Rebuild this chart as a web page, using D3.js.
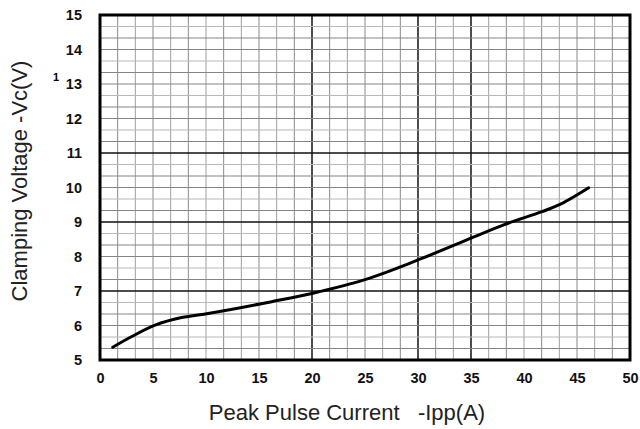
<!DOCTYPE html>
<html><head><meta charset="utf-8">
<script src="https://cdn.jsdelivr.net/npm/d3@7"></script>
<style>body{margin:0;background:#fff}svg{display:block}</style>
</head><body>
<svg id="c" width="640" height="429"></svg>
<script>
const currentA = [1.2, 3, 5.2, 7.7, 10.2, 13, 16.2, 20, 25, 30, 35, 38.2, 41.7, 43.6, 46.1];
const clampV   = [5.37, 5.68, 6.01, 6.23, 6.35, 6.5, 6.69, 6.93, 7.33, 7.9, 8.53, 8.93, 9.3, 9.54, 9.99];
const xTicks = [0, 5, 10, 15, 20, 25, 30, 35, 40, 45, 50];
const yTicks = [5, 6, 7, 8, 9, 10, 11, 12, 13, 14, 15];
const gridCols = d3.range(0, 31);
const gridRows = d3.range(0, 31);
const darkCols = [12, 18, 21];
const darkRows = [12, 18, 24];

const svg = d3.select("#c");
const L = 100, R = 630, T = 15, B = 360;
const x = d3.scaleLinear().domain([0, 50]).range([L, R]);
const y = d3.scaleLinear().domain([5, 15]).range([B, T]);
const gx = d3.scaleLinear().domain([0, 30]).range([L, R]);
const gy = d3.scaleLinear().domain([0, 30]).range([T, B]);

const g = svg.append("g");
g.selectAll("line.vc").data(gridCols).join("line")
  .attr("x1", d => gx(d)).attr("x2", d => gx(d)).attr("y1", T).attr("y2", B)
  .attr("stroke", d => darkCols.includes(d) ? "#111" : (d % 2 ? "#8a8a8a" : "#a0a0a0"))
  .attr("stroke-width", d => darkCols.includes(d) ? 1.5 : 1);
g.selectAll("line.hr").data(gridRows).join("line")
  .attr("y1", d => gy(d)).attr("y2", d => gy(d)).attr("x1", L).attr("x2", R)
  .attr("stroke", d => darkRows.includes(d) ? "#111" : (d % 3 === 1 ? "#b8b8b8" : "#858585"))
  .attr("stroke-width", d => darkRows.includes(d) ? 1.5 : 1);

svg.append("rect").attr("x", L).attr("y", T).attr("width", R - L).attr("height", B - T)
  .attr("fill", "none").attr("stroke", "#000").attr("stroke-width", 3);

const pts = currentA.map((v, i) => [v, clampV[i]]);
svg.append("path").datum(pts)
  .attr("d", d3.line().x(d => x(d[0])).y(d => y(d[1])).curve(d3.curveCatmullRom.alpha(0.5)))
  .attr("fill", "none").attr("stroke", "#000").attr("stroke-width", 3).attr("stroke-linecap", "round");

const font = "Liberation Sans, Arial, sans-serif";
const xAxis = d3.axisBottom(x).tickValues(xTicks).tickSize(0).tickPadding(13);
svg.append("g").attr("transform", `translate(0,${B})`).call(xAxis)
  .call(s => s.select(".domain").remove())
  .selectAll("text").style("font-family", font).style("font-size", "14.5px").style("font-weight", "bold").attr("fill", "#111");
const yAxis = d3.axisLeft(y).tickValues(yTicks).tickSize(0).tickPadding(18);
svg.append("g").attr("transform", `translate(${L},0)`).call(yAxis)
  .call(s => s.select(".domain").remove())
  .selectAll("text").style("font-family", font).style("font-size", "14.5px").style("font-weight", "bold").attr("fill", "#111");

svg.append("text").attr("x", 56).attr("y", 81).attr("text-anchor", "middle")
  .attr("font-family", font).attr("font-size", 11).attr("font-weight", "bold").text("1");

svg.append("text").attr("x", 347).attr("y", 420).attr("text-anchor", "middle")
  .attr("font-family", font).attr("font-size", 22).attr("fill", "#222").attr("xml:space", "preserve")
  .text("Peak Pulse Current   -Ipp(A)");
svg.append("text").attr("transform", "translate(27,181) rotate(-90)").attr("text-anchor", "middle")
  .attr("font-family", font).attr("font-size", 22).attr("fill", "#222")
  .text("Clamping Voltage -Vc(V)");
</script>
</body></html>
